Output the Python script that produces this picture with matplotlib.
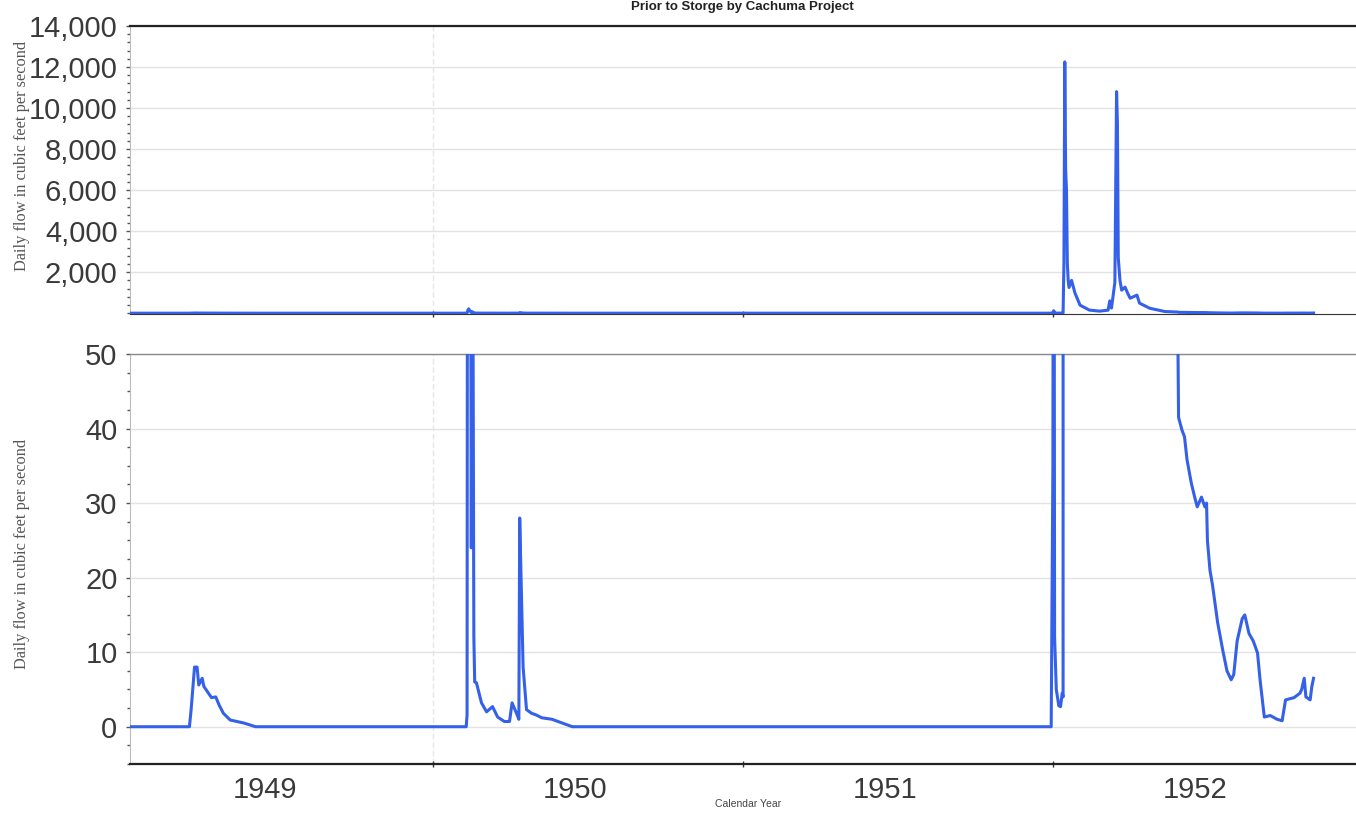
import matplotlib
matplotlib.use("Agg")
import matplotlib.pyplot as plt
import matplotlib.dates as mdates
from matplotlib.ticker import FixedLocator, AutoMinorLocator, FuncFormatter
import datetime as dt

# ---------------- data ----------------
dates = [
    "1949-01-01", "1949-03-20", "1949-03-22", "1949-03-26", "1949-03-29", "1949-03-31",
    "1949-04-04", "1949-04-06", "1949-04-15", "1949-04-20", "1949-04-24", "1949-04-29",
    "1949-05-07", "1949-05-23", "1949-06-06",
    "1950-02-09", "1950-02-10", "1950-02-11", "1950-02-12", "1950-02-13", "1950-02-14",
    "1950-02-15", "1950-02-16", "1950-02-17", "1950-02-18", "1950-02-19", "1950-02-21",
    "1950-02-27", "1950-03-05", "1950-03-12", "1950-03-18", "1950-03-26", "1950-04-01",
    "1950-04-04", "1950-04-10", "1950-04-12", "1950-04-13", "1950-04-15", "1950-04-17",
    "1950-04-21", "1950-04-27", "1950-05-02", "1950-05-09", "1950-05-21", "1950-06-02",
    "1950-06-14",
    "1951-12-30", "1952-01-01", "1952-01-02", "1952-01-03", "1952-01-05", "1952-01-08",
    "1952-01-10", "1952-01-12", "1952-01-13", "1952-01-14", "1952-01-15", "1952-01-16",
    "1952-01-17", "1952-01-18", "1952-01-19", "1952-01-20", "1952-01-23", "1952-01-27",
    "1952-02-02", "1952-02-13", "1952-02-25", "1952-03-06", "1952-03-08", "1952-03-10",
    "1952-03-14", "1952-03-16", "1952-03-17", "1952-03-18", "1952-03-20", "1952-03-22",
    "1952-03-26", "1952-03-29", "1952-04-01", "1952-04-09", "1952-04-12", "1952-04-24",
    "1952-05-12", "1952-05-27", "1952-05-28", "1952-06-01", "1952-06-04", "1952-06-07",
    "1952-06-12", "1952-06-16", "1952-06-19", "1952-06-24", "1952-06-28", "1952-06-30",
    "1952-07-01", "1952-07-04", "1952-07-07", "1952-07-13", "1952-07-19", "1952-07-24",
    "1952-07-29", "1952-08-01", "1952-08-05", "1952-08-11", "1952-08-14", "1952-08-19",
    "1952-08-24", "1952-08-29", "1952-09-01", "1952-09-06", "1952-09-13", "1952-09-21",
    "1952-09-27", "1952-10-01", "1952-10-11", "1952-10-18", "1952-10-20", "1952-10-23",
    "1952-10-25", "1952-10-30", "1952-11-01", "1952-11-03",
]
flow_cfs = [
    0, 0, 2.3, 8, 8, 5.6,
    6.5, 5.4, 3.9, 4.0, 2.9, 1.8,
    0.9, 0.5, 0,
    0, 1.6, 150, 210, 130, 80,
    24, 70, 55, 12, 6, 5.9,
    3.2, 2.0, 2.7, 1.3, 0.7, 0.7,
    3.2, 1.6, 1.0, 28, 18, 8,
    2.3, 1.8, 1.6, 1.2, 1.0, 0.5,
    0,
    0, 35, 120, 12, 5, 2.8,
    2.7, 4.5, 4.0, 2440, 12250, 7000,
    6000, 2440, 1600, 1250, 1600, 980,
    390, 150, 100, 146, 600, 250,
    1500, 10800, 9270, 2700, 1600, 1120,
    1270, 976, 730, 880, 490, 240,
    80, 55, 41.5, 39.8, 38.9, 35.8,
    32.7, 30.8, 29.5, 30.8, 29.5, 30,
    25, 21, 19, 14, 10.3, 7.5,
    6.3, 7.0, 11.5, 14.5, 15, 12.5,
    11.5, 9.9, 6.3, 1.3, 1.5, 1.0,
    0.8, 3.6, 3.9, 4.5, 5.0, 6.5,
    4.0, 3.6, 5.4, 6.5,
]
years = [1949, 1950, 1951, 1952]
top_ticks = [2000, 4000, 6000, 8000, 10000, 12000, 14000]
bottom_ticks = [0, 10, 20, 30, 40, 50]

title = "Prior to Storge by Cachuma Project"
ylabel = "Daily flow in cubic feet per second"
xlabel = "Calendar Year"

# ---------------- figure ----------------
W, H = 1356, 814
fig = plt.figure(figsize=(W / 100, H / 100), dpi=100)
fig.patch.set_facecolor("white")

x = [dt.datetime.strptime(d, "%Y-%m-%d") for d in dates]
line_color = "#3560e8"
tick_color = "#3a3a3a"
sans = ["Liberation Sans", "DejaVu Sans"]
serif = ["Liberation Serif", "DejaVu Serif"]

def px(xp, yp_top, yp_bot, xr=W):
    return [xp / W, 1 - yp_bot / H, (xr - xp) / W, (yp_bot - yp_top) / H]

ax1 = fig.add_axes(px(130, 26, 314))
ax2 = fig.add_axes(px(130, 354, 764))

xmin = dt.datetime(1949, 1, 9)
xmax = dt.datetime(1952, 12, 23)

for ax in (ax1, ax2):
    ax.plot(x, flow_cfs, color=line_color, lw=2.2, solid_joinstyle="round", zorder=3)
    ax.set_xlim(xmin, xmax)
    ax.xaxis.set_major_locator(FixedLocator([mdates.date2num(dt.datetime(y, 1, 1)) for y in years[1:]]))
    ax.xaxis.set_major_formatter(FuncFormatter(lambda v, p: ""))
    ax.xaxis.set_minor_locator(FixedLocator([mdates.date2num(dt.datetime(y, 6, 17)) for y in years]))
    ax.tick_params(axis="x", which="major", length=4, width=1, color="#333333", direction="inout")
    ax.tick_params(axis="x", which="minor", length=0, pad=9)
    ax.tick_params(axis="y", which="major", length=3, width=1, color="#555555", pad=6,
                   labelsize=21, labelcolor=tick_color)
    ax.tick_params(axis="y", which="minor", length=2, width=1, color="#555555")
    ax.yaxis.grid(True, color="#e3e3e3", lw=1.0, zorder=0)
    ax.axvline(mdates.date2num(dt.datetime(1950, 1, 1)), color="#e6e6e6", lw=1.0, ls=(0, (4, 2)), zorder=0)
    ax.spines["right"].set_visible(False)
    ax.spines["left"].set_color("#bbbbbb")
    ax.spines["left"].set_linewidth(0.8)

# top panel
ax1.set_ylim(-40, 14000)
ax1.yaxis.set_major_locator(FixedLocator(top_ticks))
ax1.yaxis.set_major_formatter(FuncFormatter(lambda v, p: f"{int(v):,}"))
ax1.yaxis.set_minor_locator(AutoMinorLocator(5))
ax1.spines["top"].set_color("#222222")
ax1.spines["top"].set_linewidth(1.6)
ax1.spines["bottom"].set_color("#333333")
ax1.spines["bottom"].set_linewidth(0.8)
ax1.tick_params(axis="x", which="minor", labelbottom=False)
for lab in ax1.get_yticklabels():
    lab.set_family(sans)
    lab.set_fontsize(21)

# bottom panel
ax2.set_ylim(-5, 50)
ax2.yaxis.set_major_locator(FixedLocator(bottom_ticks))
ax2.yaxis.set_major_formatter(FuncFormatter(lambda v, p: f"{int(v)}"))
ax2.yaxis.set_minor_locator(AutoMinorLocator(4))
ax2.spines["top"].set_color("#8a8a8a")
ax2.spines["top"].set_linewidth(1.0)
ax2.spines["bottom"].set_color("#222222")
ax2.spines["bottom"].set_linewidth(1.6)
ax2.xaxis.set_minor_formatter(FuncFormatter(lambda v, p: f"{mdates.num2date(v).year}"))
for lab in ax2.get_yticklabels():
    lab.set_family(sans)
    lab.set_fontsize(21)
for lab in ax2.get_xticklabels(minor=True):
    lab.set_family(sans)
    lab.set_fontsize(21)
    lab.set_color(tick_color)

# texts
fig.text(742 / W, 1 - 7 / H, title, ha="center", va="center", fontsize=9.5,
         fontweight="bold", family=sans, color="#222222")
fig.text(22 / W, 1 - 156 / H, ylabel, rotation=90, ha="center", va="center",
         fontsize=11.8, family=serif, color="#555555")
fig.text(22 / W, 1 - 554 / H, ylabel, rotation=90, ha="center", va="center",
         fontsize=11.8, family=serif, color="#555555")
fig.text(748 / W, 1 - 804 / H, xlabel, ha="center", va="center", fontsize=7.5,
         family=sans, color="#444444")

fig.savefig("out.png", dpi=100, facecolor="white")
